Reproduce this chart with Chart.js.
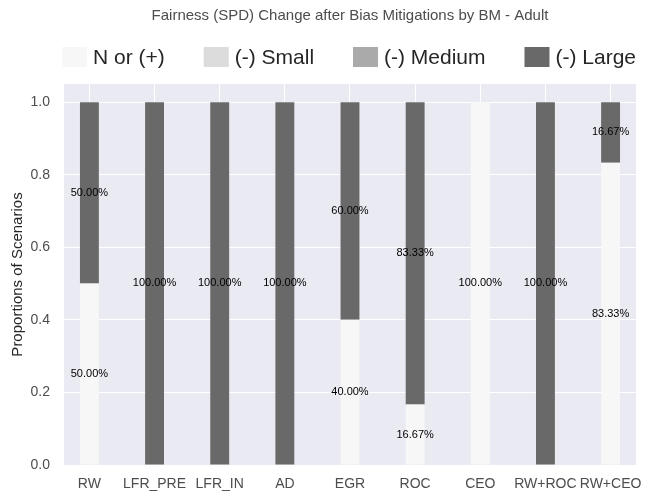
<!DOCTYPE html>
<html>
<head>
<meta charset="utf-8">
<script src="https://cdn.jsdelivr.net/npm/chart.js@4/dist/chart.umd.min.js"></script>
<style>
  html, body { margin: 0; padding: 0; background: #fff; }
  #wrap { width: 656px; height: 500px; }
</style>
</head>
<body>
<div id="wrap"><canvas id="spdChart"></canvas></div>
<script>
// categories and shares per scenario
const methods = ["RW", "LFR_PRE", "LFR_IN", "AD", "EGR", "ROC", "CEO", "RW+ROC", "RW+CEO"];
const noneOrPositive = [0.5, 0, 0, 0, 0.4, 0.1667, 1.0, 0, 0.8333];
const smallDrop = [0, 0, 0, 0, 0, 0, 0, 0, 0];
const mediumDrop = [0, 0, 0, 0, 0, 0, 0, 0, 0];
const largeDrop = [0.5, 1.0, 1.0, 1.0, 0.6, 0.8333, 0, 1.0, 0.1667];
const yTicks = [0, 0.2, 0.4, 0.6, 0.8, 1.0];

const FONT = "'Liberation Sans', Arial, sans-serif";
// bars sit on positions 0..n-1 of a numeric x axis (matplotlib style margins)
const positions = methods.map((m, i) => i);

// seaborn-ish panel background
const panelBg = {
  id: "panelBg",
  beforeDraw(chart) {
    const { ctx, chartArea: a } = chart;
    ctx.save();
    ctx.fillStyle = "#EAEAF2";
    ctx.fillRect(a.left, a.top, a.right - a.left, a.bottom - a.top);
    ctx.restore();
  }
};

// percentage text in the middle of each segment
const segLabels = {
  id: "segLabels",
  afterDatasetsDraw(chart) {
    const ctx = chart.ctx;
    ctx.save();
    ctx.font = "11px " + FONT;
    ctx.fillStyle = "#000";
    ctx.textAlign = "center";
    ctx.textBaseline = "middle";
    chart.data.datasets.forEach((ds, i) => {
      const meta = chart.getDatasetMeta(i);
      meta.data.forEach((bar, j) => {
        const v = ds.data[j];
        if (!v) return;
        const y = (bar.y + bar.base) / 2;
        ctx.fillText((v * 100).toFixed(2) + "%", bar.x, y);
      });
    });
    ctx.restore();
  }
};

// legend stretched across the plot width, like the matplotlib one
const wideLegend = {
  id: "wideLegend",
  afterDraw(chart) {
    const { ctx, chartArea: a } = chart;
    const boxW = 25, boxH = 20, gap = 6, yMid = 57;
    ctx.save();
    ctx.font = "21px " + FONT;
    ctx.textBaseline = "middle";
    const items = chart.data.datasets.map(ds => ({
      text: ds.label, color: ds.backgroundColor,
      w: boxW + gap + ctx.measureText(ds.label).width
    }));
    const total = items.reduce((s, it) => s + it.w, 0);
    const space = (a.right + 2 - a.left - total) / (items.length - 1);
    let x = a.left - 2;
    items.forEach(it => {
      ctx.fillStyle = it.color;
      ctx.fillRect(x, yMid - boxH / 2, boxW, boxH);
      ctx.fillStyle = "#262626";
      ctx.fillText(it.text, x + boxW + gap, yMid + 1);
      x += it.w + space;
    });
    ctx.restore();
  }
};

const ctx = document.getElementById("spdChart").getContext("2d");
const spdChart = new Chart(ctx, {
  type: "bar",
  data: {
    labels: positions,
    datasets: [
      { label: "N or (+)", data: noneOrPositive, backgroundColor: "#F7F7F7" },
      { label: "(-) Small", data: smallDrop, backgroundColor: "#DCDCDC" },
      { label: "(-) Medium", data: mediumDrop, backgroundColor: "#AAAAAA" },
      { label: "(-) Large", data: largeDrop, backgroundColor: "#696969" },
    ],
  },
  options: {
    responsive: true,
    maintainAspectRatio: false,
    animation: false,
    layout: { padding: { left: 2, right: 20, top: 0, bottom: 5 } },
    datasets: {
      bar: { barPercentage: 0.29, categoryPercentage: 1.0, borderWidth: 0 }
    },
    scales: {
      x: {
        type: "linear",
        stacked: true,
        min: -0.39,
        max: methods.length - 1 + 0.39,
        offset: false,
        afterFit(axis) { axis.height = 30; },
        afterBuildTicks(axis) { axis.ticks = positions.map(v => ({ value: v })); },
        grid: { color: "#ffffff", lineWidth: 1, offset: false, drawTicks: false },
        border: { display: false },
        ticks: {
          color: "#4d4d4d", font: { family: FONT, size: 14 }, padding: 11,
          maxRotation: 0, autoSkip: false,
          callback: v => methods[v]
        },
      },
      y: {
        stacked: true,
        min: 0,
        max: 1.05,
        afterFit(axis) { axis.width = 62; },
        afterBuildTicks(axis) { axis.ticks = yTicks.map(v => ({ value: v })); },
        grid: { color: "#ffffff", lineWidth: 1, drawTicks: false },
        border: { display: false },
        ticks: {
          color: "#4d4d4d", font: { family: FONT, size: 14 }, padding: 14,
          callback: v => v.toFixed(1)
        },
        title: {
          display: true, text: "Proportions of Scenarios",
          color: "#262626", font: { family: FONT, size: 15 }, padding: { top: 7, bottom: 4 }
        },
      },
    },
    plugins: {
      legend: { display: false },
      title: {
        display: true,
        fullSize: false,
        text: "Fairness (SPD) Change after Bias Mitigations by BM - Adult",
        color: "#4d4d4d",
        font: { family: FONT, size: 15, weight: "normal" },
        padding: { top: 7, bottom: 59 },
      },
      tooltip: { enabled: false },
    },
  },
  plugins: [panelBg, segLabels, wideLegend],
});
</script>
</body>
</html>
